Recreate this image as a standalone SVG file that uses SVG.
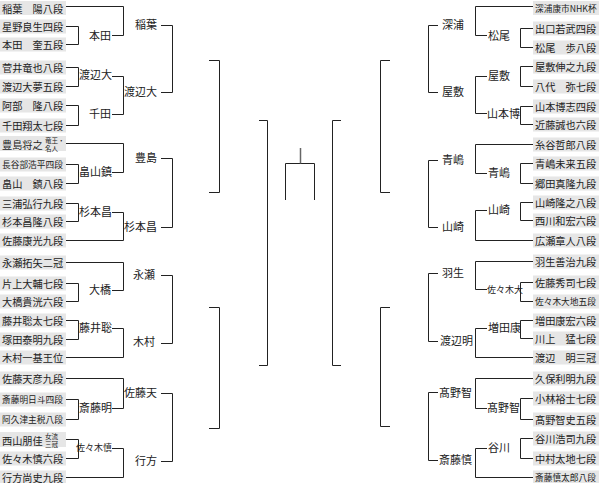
<svg xmlns="http://www.w3.org/2000/svg" width="599" height="483" viewBox="0 0 599 483">
<style>
text{font-family:"Noto Sans CJK JP","Noto Sans CJK SC",sans-serif;font-size:11px;fill:#222;dominant-baseline:central}
.box{fill:#e6e6e6}
.n{font-size:10.2px}
.n7{font-size:8.7px}
.sm{font-size:6.5px}
.s9{font-size:9px}
.r{text-anchor:end}
#connectors path{fill:none;stroke:#222;stroke-width:1}
</style>
<rect width="599" height="483" fill="#fff"/>
<g id="connectors">
<path d="M66,26.5H78.5V44.5H66"/>
<path d="M66,67.5H78.5V86.5H66"/>
<path d="M66,105.5H78.5V125.5H66"/>
<path d="M66,164.5H78.5V183.5H66"/>
<path d="M66,203.5H78.5V221.5H66"/>
<path d="M66,283.5H78.5V301.5H66"/>
<path d="M66,320.5H78.5V339.5H66"/>
<path d="M66,399.5H78.5V419.5H66"/>
<path d="M66,439.5H78.5V458.5H66"/>
<path d="M66,6.5H123.5V35.5H112"/>
<path d="M112,76.5H123.5V114.5H112"/>
<path d="M66,143.5H123.5V172.5H112"/>
<path d="M112,212.5H123.5V240.5H66"/>
<path d="M66,262.5H123.5V290.5H112"/>
<path d="M112,328.5H123.5V357.5H66"/>
<path d="M66,378.5H123.5V408.5H112"/>
<path d="M112,448.5H123.5V477.5H66"/>
<path d="M161,25.5H172.5V92.5H161"/>
<path d="M161,158.5H172.5V227.5H161"/>
<path d="M161,275.5H172.5V343.5H161"/>
<path d="M161,393.5H172.5V461.5H161"/>
<path d="M209,60.5H219.5V192.5H209"/>
<path d="M209,307.5H219.5V428.5H209"/>
<path d="M259,120.5H267.5V365.5H259"/>
<path d="M285.5,200V163.5H314.5V200"/>
<path d="M300.5,148V163.5" style="stroke:#666;stroke-width:1.5"/>
<path d="M341,120.5H332.5V365.5H341"/>
<path d="M390,60.5H380.5V192.5H390"/>
<path d="M390,307.5H380.5V426.5H390"/>
<path d="M438,25.5H428.5V92.5H438"/>
<path d="M438,160.5H428.5V227.5H438"/>
<path d="M438,273.5H428.5V341.5H438"/>
<path d="M438,392.5H428.5V460.5H438"/>
<path d="M533,6.5H475.5V35.5H487"/>
<path d="M487,76.5H475.5V113.5H487"/>
<path d="M533,144.5H475.5V173.5H487"/>
<path d="M487,210.5H475.5V240.5H533"/>
<path d="M533,261.5H475.5V289.5H487"/>
<path d="M487,328.5H475.5V357.5H533"/>
<path d="M533,378.5H475.5V408.5H487"/>
<path d="M487,448.5H475.5V477.5H533"/>
<path d="M533,28.5H520.5V47.5H533"/>
<path d="M533,66.5H520.5V86.5H533"/>
<path d="M533,106.5H520.5V124.5H533"/>
<path d="M533,163.5H520.5V183.5H533"/>
<path d="M533,202.5H520.5V220.5H533"/>
<path d="M533,282.5H520.5V301.5H533"/>
<path d="M533,320.5H520.5V338.5H533"/>
<path d="M533,398.5H520.5V419.5H533"/>
<path d="M533,438.5H520.5V458.5H533"/>
</g>
<g id="L01"><rect class="box" x="0" y="1" width="66" height="14"/><text class="n" x="2" y="8">稲葉　陽八段</text></g>
<g id="L02"><rect class="box" x="0" y="19.5" width="66" height="14"/><text class="n" x="2" y="26.5">星野良生四段</text></g>
<g id="L03"><rect class="box" x="0" y="37.5" width="66" height="14"/><text class="n" x="2" y="44.5">本田　奎五段</text></g>
<g id="L04"><rect class="box" x="0" y="60.5" width="66" height="14"/><text class="n" x="2" y="67.5">菅井竜也八段</text></g>
<g id="L05"><rect class="box" x="0" y="79.5" width="66" height="14"/><text class="n" x="2" y="86.5">渡辺大夢五段</text></g>
<g id="L06"><rect class="box" x="0" y="98.5" width="66" height="14"/><text class="n" x="2" y="105.5">阿部　隆八段</text></g>
<g id="L07"><rect class="box" x="0" y="118.5" width="66" height="14"/><text class="n" x="2" y="125.5">千田翔太七段</text></g>
<g id="L08"><rect class="box" x="0" y="136" width="66" height="15"/><text class="n" x="2" y="144">豊島将之</text><text class="sm" x="45" y="139.5">竜王・</text><text class="sm" x="45" y="148">名人</text></g>
<g id="L09"><rect class="box" x="0" y="157.5" width="66" height="14"/><text class="n7" x="2" y="164.5">長谷部浩平四段</text></g>
<g id="L10"><rect class="box" x="0" y="176.5" width="66" height="14"/><text class="n" x="2" y="183.5">畠山　鎮八段</text></g>
<g id="L11"><rect class="box" x="0" y="196.5" width="66" height="14"/><text class="n" x="2" y="203.5">三浦弘行九段</text></g>
<g id="L12"><rect class="box" x="0" y="214.5" width="66" height="14"/><text class="n" x="2" y="221.5">杉本昌隆八段</text></g>
<g id="L13"><rect class="box" x="0" y="233.5" width="66" height="14"/><text class="n" x="2" y="240.5">佐藤康光九段</text></g>
<g id="L14"><rect class="box" x="0" y="255.5" width="66" height="14"/><text class="n" x="2" y="262.5">永瀬拓矢二冠</text></g>
<g id="L15"><rect class="box" x="0" y="276.5" width="66" height="14"/><text class="n" x="2" y="283.5">片上大輔七段</text></g>
<g id="L16"><rect class="box" x="0" y="294.5" width="66" height="14"/><text class="n" x="2" y="301.5">大橋貴洸六段</text></g>
<g id="L17"><rect class="box" x="0" y="313.5" width="66" height="14"/><text class="n" x="2" y="320.5">藤井聡太七段</text></g>
<g id="L18"><rect class="box" x="0" y="332.5" width="66" height="14"/><text class="n" x="2" y="339.5">塚田泰明九段</text></g>
<g id="L19"><rect class="box" x="0" y="350.5" width="66" height="14"/><text class="n" x="2" y="357.5">木村一基王位</text></g>
<g id="L20"><rect class="box" x="0" y="371.5" width="66" height="14"/><text class="n" x="2" y="378.5">佐藤天彦九段</text></g>
<g id="L21"><rect class="box" x="0" y="392.5" width="66" height="14"/><text class="n7" x="2" y="399.5">斎藤明日斗四段</text></g>
<g id="L22"><rect class="box" x="0" y="412.5" width="66" height="14"/><text class="n7" x="2" y="419.5">阿久津主税八段</text></g>
<g id="L23"><rect class="box" x="0" y="432" width="66" height="15"/><text class="n" x="2" y="440">西山朋佳</text><text class="sm" x="45" y="435.5">女流</text><text class="sm" x="45" y="444">三冠</text></g>
<g id="L24"><rect class="box" x="0" y="451.5" width="66" height="14"/><text class="n" x="2" y="458.5">佐々木慎六段</text></g>
<g id="L25"><rect class="box" x="0" y="470.5" width="66" height="13"/><text class="n" x="2" y="477">行方尚史九段</text></g>
<g id="LA1"><text class="r" x="111" y="35">本田</text></g>
<g id="LA2"><text class="r" x="112" y="74">渡辺大</text></g>
<g id="LA3"><text class="r" x="111" y="113">千田</text></g>
<g id="LA4"><text class="r" x="112" y="171">畠山鎮</text></g>
<g id="LA5"><text class="r" x="112" y="211">杉本昌</text></g>
<g id="LA6"><text class="r" x="111" y="289">大橋</text></g>
<g id="LA7"><text class="r" x="112" y="327">藤井聡</text></g>
<g id="LA8"><text class="r" x="112" y="407">斎藤明</text></g>
<g id="LA9"><text class="r s9" x="112" y="447">佐々木慎</text></g>
<g id="LB1"><text class="r" x="157" y="24">稲葉</text></g>
<g id="LB2"><text class="r" x="157" y="91">渡辺大</text></g>
<g id="LB3"><text class="r" x="157" y="157">豊島</text></g>
<g id="LB4"><text class="r" x="157" y="226">杉本昌</text></g>
<g id="LB5"><text class="r" x="155" y="274">永瀬</text></g>
<g id="LB6"><text class="r" x="155" y="341">木村</text></g>
<g id="LB7"><text class="r" x="157" y="392">佐藤天</text></g>
<g id="LB8"><text class="r" x="157" y="460">行方</text></g>
<g id="R01"><rect class="box" x="533" y="1" width="66" height="14"/><text class="n7" x="535" y="8">深浦康市NHK杯</text></g>
<g id="R02"><rect class="box" x="533" y="21.5" width="66" height="14"/><text class="n" x="535" y="28.5">出口若武四段</text></g>
<g id="R03"><rect class="box" x="533" y="40.5" width="66" height="14"/><text class="n" x="535" y="47.5">松尾　歩八段</text></g>
<g id="R04"><rect class="box" x="533" y="59.5" width="66" height="14"/><text class="n" x="535" y="66.5">屋敷伸之九段</text></g>
<g id="R05"><rect class="box" x="533" y="79.5" width="66" height="14"/><text class="n" x="535" y="86.5">八代　弥七段</text></g>
<g id="R06"><rect class="box" x="533" y="99.5" width="66" height="14"/><text class="n" x="535" y="106.5">山本博志四段</text></g>
<g id="R07"><rect class="box" x="533" y="117.5" width="66" height="14"/><text class="n" x="535" y="124.5">近藤誠也六段</text></g>
<g id="R08"><rect class="box" x="533" y="137.5" width="66" height="14"/><text class="n" x="535" y="144.5">糸谷哲郎八段</text></g>
<g id="R09"><rect class="box" x="533" y="156.5" width="66" height="14"/><text class="n" x="535" y="163.5">青嶋未来五段</text></g>
<g id="R10"><rect class="box" x="533" y="176.5" width="66" height="14"/><text class="n" x="535" y="183.5">郷田真隆九段</text></g>
<g id="R11"><rect class="box" x="533" y="195.5" width="66" height="14"/><text class="n" x="535" y="202.5">山崎隆之八段</text></g>
<g id="R12"><rect class="box" x="533" y="213.5" width="66" height="14"/><text class="n" x="535" y="220.5">西川和宏六段</text></g>
<g id="R13"><rect class="box" x="533" y="233.5" width="66" height="14"/><text class="n" x="535" y="240.5">広瀬章人八段</text></g>
<g id="R14"><rect class="box" x="533" y="254.5" width="66" height="14"/><text class="n" x="535" y="261.5">羽生善治九段</text></g>
<g id="R15"><rect class="box" x="533" y="275.5" width="66" height="14"/><text class="n" x="535" y="282.5">佐藤秀司七段</text></g>
<g id="R16"><rect class="box" x="533" y="294.5" width="66" height="14"/><text class="n7" x="535" y="301.5">佐々木大地五段</text></g>
<g id="R17"><rect class="box" x="533" y="313.5" width="66" height="14"/><text class="n" x="535" y="320.5">増田康宏六段</text></g>
<g id="R18"><rect class="box" x="533" y="331.5" width="66" height="14"/><text class="n" x="535" y="338.5">川上　猛七段</text></g>
<g id="R19"><rect class="box" x="533" y="350.5" width="66" height="14"/><text class="n" x="535" y="357.5">渡辺　明三冠</text></g>
<g id="R20"><rect class="box" x="533" y="371.5" width="66" height="14"/><text class="n" x="535" y="378.5">久保利明九段</text></g>
<g id="R21"><rect class="box" x="533" y="391.5" width="66" height="14"/><text class="n" x="535" y="398.5">小林裕士七段</text></g>
<g id="R22"><rect class="box" x="533" y="412.5" width="66" height="14"/><text class="n" x="535" y="419.5">髙野智史五段</text></g>
<g id="R23"><rect class="box" x="533" y="431.5" width="66" height="14"/><text class="n" x="535" y="438.5">谷川浩司九段</text></g>
<g id="R24"><rect class="box" x="533" y="451.5" width="66" height="14"/><text class="n" x="535" y="458.5">中村太地七段</text></g>
<g id="R25"><rect class="box" x="533" y="470.5" width="66" height="13"/><text class="n7" x="535" y="477">斎藤慎太郎八段</text></g>
<g id="RA1"><text x="488" y="35">松尾</text></g>
<g id="RA2"><text x="488" y="75">屋敷</text></g>
<g id="RA3"><text x="487" y="113">山本博</text></g>
<g id="RA4"><text x="488" y="172">青嶋</text></g>
<g id="RA5"><text x="488" y="209">山崎</text></g>
<g id="RA6"><text class="s9" x="487" y="289">佐々木大</text></g>
<g id="RA7"><text x="488" y="327">増田康</text></g>
<g id="RA8"><text x="487" y="407">髙野智</text></g>
<g id="RA9"><text x="488" y="447">谷川</text></g>
<g id="RB1"><text x="442" y="24">深浦</text></g>
<g id="RB2"><text x="442" y="91">屋敷</text></g>
<g id="RB3"><text x="442" y="159">青嶋</text></g>
<g id="RB4"><text x="442" y="226">山崎</text></g>
<g id="RB5"><text x="442" y="272">羽生</text></g>
<g id="RB6"><text x="440" y="340">渡辺明</text></g>
<g id="RB7"><text x="439" y="392">髙野智</text></g>
<g id="RB8"><text x="439" y="459">斎藤慎</text></g>
</svg>
